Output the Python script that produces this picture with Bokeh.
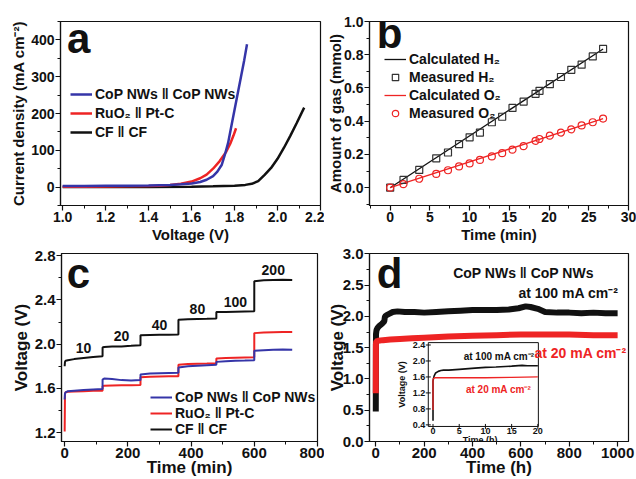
import numpy as np
from bokeh.plotting import figure
from bokeh.models import (Range1d, FixedTicker, Legend, LegendItem, Label,
                          PrintfTickFormatter)
from bokeh.layouts import column, row
from bokeh.embed import file_html
from bokeh.resources import INLINE
from bokeh.core.properties import value

FONT = "Liberation Sans"
BLUE = "#3535a8"
RED = "#ee2424"
BLACK = "#111111"

# ---------------- Panel a : polarization curves ----------------
a_cop_v = [1.00, 1.10, 1.20, 1.30, 1.40, 1.50, 1.55, 1.60, 1.64, 1.67, 1.70, 1.72, 1.74, 1.755, 1.77, 1.79, 1.81, 1.83, 1.845, 1.858]
a_cop_j = [3, 3, 3.5, 4, 4.5, 6, 7.5, 10, 14, 20, 30, 42, 60, 88, 120, 180, 240, 300, 345, 388]
a_ru_v = [1.00, 1.10, 1.20, 1.30, 1.40, 1.45, 1.50, 1.55, 1.60, 1.64, 1.67, 1.70, 1.73, 1.76, 1.78, 1.795, 1.807]
a_ru_j = [1, 1, 1.5, 2, 3, 4, 6, 9, 15, 24, 34, 50, 70, 95, 118, 140, 160]
a_cf_v = [1.00, 1.20, 1.40, 1.60, 1.70, 1.80, 1.85, 1.88, 1.91, 1.94, 1.97, 2.00, 2.03, 2.06, 2.09, 2.124]
a_cf_j = [0, 0, 0.5, 1, 2, 4, 6, 9, 16, 33, 52, 77, 107, 140, 175, 216]
a_xticks = [1.0, 1.2, 1.4, 1.6, 1.8, 2.0, 2.2]
a_xminor = [1.1, 1.3, 1.5, 1.7, 1.9, 2.1]
a_yticks = [0, 100, 200, 300, 400]
a_yminor = [-50, 50, 150, 250, 350, 450]
a_names = ["CoP NWs ǁ CoP NWs", "RuO₂ ǁ Pt-C", "CF ǁ CF"]

# ---------------- Panel b : gas amount ----------------
b_meas_t = [0, 1.68, 3.66, 5.8, 7.28, 8.67, 10.0, 11.3, 12.8, 14.1, 15.4, 16.8, 18.3, 18.8, 20.1, 21.5, 22.8, 24.1, 25.5, 26.8]
b_meas_h2 = [0, 0.047, 0.107, 0.177, 0.212, 0.262, 0.303, 0.332, 0.394, 0.427, 0.48, 0.518, 0.565, 0.583, 0.623, 0.666, 0.709, 0.74, 0.79, 0.835]
b_meas_o2 = [0, 0.021, 0.054, 0.083, 0.105, 0.128, 0.146, 0.167, 0.188, 0.208, 0.229, 0.25, 0.282, 0.293, 0.313, 0.332, 0.351, 0.375, 0.394, 0.416]
b_calc_t = [0, 26.8]
b_calc_h2 = [0, 0.835]
b_calc_o2 = [0, 0.416]
b_xticks = [0, 5, 10, 15, 20, 25, 30]
b_xminor = [-2.5, 2.5, 7.5, 12.5, 17.5, 22.5, 27.5]
b_yticks = [0.0, 0.2, 0.4, 0.6, 0.8, 1.0]
b_yminor = [-0.1, 0.1, 0.3, 0.5, 0.7, 0.9]
b_names = ["Calculated H₂", "Measured H₂", "Calculated O₂", "Measured O₂"]

# ---------------- Panel c : multi-step chronopotentiometry ----------------
c_time = [0, 1, 3, 10, 30, 60, 90, 119.9, 120, 125, 150, 180, 210, 239.9, 240, 270, 300, 330, 359.9,
          360, 390, 420, 450, 479.9, 480, 510, 540, 570, 599.9, 600, 630, 660, 690, 720]
c_cop = [1.50, 1.555, 1.565, 1.575, 1.58, 1.585, 1.59, 1.595, 1.68, 1.69, 1.685, 1.675, 1.672, 1.675,
         1.725, 1.735, 1.738, 1.74, 1.742, 1.79, 1.80, 1.805, 1.81, 1.815, 1.84, 1.845, 1.85, 1.852, 1.855,
         1.94, 1.945, 1.95, 1.952, 1.95]
c_ru = [1.21, 1.55, 1.565, 1.57, 1.572, 1.575, 1.578, 1.58, 1.62, 1.625, 1.627, 1.628, 1.628, 1.63,
        1.70, 1.705, 1.708, 1.71, 1.71, 1.815, 1.82, 1.823, 1.825, 1.827, 1.87, 1.875, 1.878, 1.88, 1.882,
        2.10, 2.105, 2.108, 2.11, 2.11]
c_cf = [1.80, 1.84, 1.85, 1.855, 1.865, 1.875, 1.885, 1.89, 1.97, 1.975, 1.978, 1.98, 1.985, 1.99,
        2.08, 2.083, 2.085, 2.086, 2.088, 2.22, 2.225, 2.228, 2.23, 2.232, 2.29, 2.292, 2.294, 2.296, 2.298,
        2.57, 2.578, 2.58, 2.582, 2.58]
c_step_start = [0, 120, 240, 360, 480, 600]
c_step_current = ["10", "20", "40", "80", "100", "200"]
c_xticks = [0, 200, 400, 600, 800]
c_xminor = [100, 300, 500, 700]
c_yticks = [1.2, 1.6, 2.0, 2.4, 2.8]
c_yminor = [1.4, 1.8, 2.2, 2.6]

# ---------------- Panel d : long-term stability ----------------
d_t_100 = [0, 0.5, 1, 3, 8, 15, 25, 35, 38, 45, 55, 70, 90, 120, 160, 200, 250, 300, 350, 400, 450,
           500, 550, 590, 620, 640, 670, 700, 750, 800, 850, 900, 950, 1000]
d_v_100 = [0.48, 1.55, 1.72, 1.78, 1.82, 1.85, 1.88, 1.92, 2.0, 2.02, 2.04, 2.07, 2.08, 2.07, 2.07, 2.06,
           2.07, 2.08, 2.09, 2.10, 2.10, 2.10, 2.11, 2.13, 2.16, 2.15, 2.12, 2.07, 2.06, 2.06, 2.05, 2.06, 2.05, 2.05]
d_t_20 = [0, 0.5, 2, 10, 30, 60, 100, 150, 200, 300, 400, 500, 600, 700, 800, 900, 1000]
d_v_20 = [0.77, 1.55, 1.60, 1.61, 1.62, 1.63, 1.64, 1.65, 1.66, 1.68, 1.69, 1.70, 1.71, 1.71, 1.71, 1.70, 1.70]
d_xticks = [0, 200, 400, 600, 800, 1000]
d_xminor = [100, 300, 500, 700, 900]
d_yticks = [0.0, 0.5, 1.0, 1.5, 2.0, 2.5, 3.0]
d_yminor = [0.25, 0.75, 1.25, 1.75, 2.25, 2.75]

# inset (first 20 h)
in_t_100 = [0, 0, 0.2, 0.5, 1, 1.5, 2, 3, 5, 8, 10, 12, 15, 17, 18, 20]
in_v_100 = [0.5, 1.5, 1.62, 1.70, 1.74, 1.76, 1.77, 1.77, 1.79, 1.82, 1.84, 1.85, 1.87, 1.89, 1.88, 1.88]
in_t_20 = [0, 0, 0.3, 2, 5, 10, 15, 20]
in_v_20 = [0.77, 1.55, 1.58, 1.58, 1.58, 1.58, 1.59, 1.60]
in_xticks = [0, 5, 10, 15, 20]
in_yticks = [0.4, 0.8, 1.2, 1.6, 2.0, 2.4]
in_xlim = [-0.9, 20.1]
in_ylim = [0.36, 2.46]


def style(p, xt, xm, yt, ym, tick_fs, lab_fs, xfmt=None, yfmt=None, xstand=1, ystand=1):
    p.xaxis.ticker = FixedTicker(ticks=xt, minor_ticks=xm)
    p.yaxis.ticker = FixedTicker(ticks=yt, minor_ticks=ym)
    if xfmt:
        p.xaxis.formatter = PrintfTickFormatter(format=xfmt)
    if yfmt:
        p.yaxis.formatter = PrintfTickFormatter(format=yfmt)
    for ax in p.xaxis + p.yaxis:
        ax.major_label_text_font = FONT
        ax.major_label_text_font_style = "bold"
        ax.major_label_text_font_size = tick_fs
        ax.major_label_text_color = BLACK
        ax.axis_label_text_font = FONT
        ax.axis_label_text_font_style = "bold"
        ax.axis_label_text_font_size = lab_fs
        ax.axis_label_text_color = BLACK
        ax.major_tick_in = 0
        ax.major_tick_out = 5
        ax.minor_tick_in = 0
        ax.minor_tick_out = 3
        ax.major_tick_line_color = BLACK
        ax.minor_tick_line_color = BLACK
        ax.axis_line_color = BLACK
        ax.axis_line_width = 1.2
        ax.major_tick_line_width = 1.2
        ax.major_label_standoff = 1
    for ax in p.xaxis:
        ax.axis_label_standoff = xstand
    for ax in p.yaxis:
        ax.axis_label_standoff = ystand
    p.xgrid.visible = False
    p.ygrid.visible = False
    p.outline_line_color = BLACK
    p.outline_line_width = 1.2
    p.outline_line_alpha = 1.0
    p.background_fill_color = "white"
    p.border_fill_color = "white"


def big_letter(p, txt, x, y):
    p.add_layout(Label(x=x, y=y, text=txt, text_font=FONT, text_font_style="bold",
                       text_font_size="42px", text_color=BLACK, text_baseline="alphabetic",
                       text_align="left"))


def make_legend(items, loc, fs, lh, spacing):
    return Legend(items=items, location=loc, background_fill_alpha=0, border_line_alpha=0,
                  label_text_font=FONT, label_text_font_style="bold", label_text_font_size=fs,
                  label_text_color=BLACK, glyph_width=22, glyph_height=lh, label_height=lh,
                  spacing=spacing, padding=0, margin=0, label_standoff=3)

# ================= figure a =================
pa = figure(width=324, height=246, x_range=Range1d(0.99, 2.2), y_range=Range1d(-50, 450),
            output_backend="svg", toolbar_location=None,
            min_border_left=60, min_border_right=4, min_border_top=17, min_border_bottom=41)
style(pa, a_xticks, a_xminor, a_yticks, a_yminor, "14px", "15px", xfmt="%.1f")
pa.xaxis.axis_label = "Voltage (V)"
pa.yaxis.axis_label = "Current density (mA cm⁻²)"
r_cf = pa.line(a_cf_v, a_cf_j, line_color=BLACK, line_width=2.5)
r_ru = pa.line(a_ru_v, a_ru_j, line_color=RED, line_width=2.5)
r_cop = pa.line(a_cop_v, a_cop_j, line_color=BLUE, line_width=2.5)
leg_a = make_legend([LegendItem(label=a_names[0], renderers=[r_cop]),
                     LegendItem(label=a_names[1], renderers=[r_ru]),
                     LegendItem(label=a_names[2], renderers=[r_cf])],
                    (10, 65), "14px", 16, 3)
pa.add_layout(leg_a)
big_letter(pa, "a", 1.02, 405)

# ================= figure b =================
pb = figure(width=312, height=246, x_range=Range1d(-2.6, 30), y_range=Range1d(-0.107, 1.0),
            output_backend="svg", toolbar_location=None,
            min_border_left=45, min_border_right=8, min_border_top=21, min_border_bottom=35)
style(pb, b_xticks, b_xminor, b_yticks, b_yminor, "14px", "15px", yfmt="%.1f", ystand=-3)
pb.xaxis.axis_label = "Time (min)"
pb.yaxis.axis_label = "Amount of gas (mmol)"
rb1 = pb.line(b_calc_t, b_calc_h2, line_color=BLACK, line_width=1.3)
rb3 = pb.line(b_calc_t, b_calc_o2, line_color=RED, line_width=1.3)
rb2 = pb.scatter(b_meas_t, b_meas_h2, marker="square", size=7, fill_color=None,
                 line_color="#333333", line_width=1.2)
rb4 = pb.scatter(b_meas_t, b_meas_o2, marker="circle", size=7, fill_color=None,
                 line_color=RED, line_width=1.2)
leg_b = make_legend([LegendItem(label=b_names[0], renderers=[rb1]),
                     LegendItem(label=b_names[1], renderers=[rb2]),
                     LegendItem(label=b_names[2], renderers=[rb3]),
                     LegendItem(label=b_names[3], renderers=[rb4])],
                    (15, 84), "14px", 16, 2)
pb.add_layout(leg_b)
big_letter(pb, "b", -1.7, 0.925)

# ================= figure c =================
pc = figure(width=324, height=233, x_range=Range1d(-10, 800), y_range=Range1d(1.12, 2.82),
            output_backend="svg", toolbar_location=None,
            min_border_left=61, min_border_right=7, min_border_top=6, min_border_bottom=38)
style(pc, c_xticks, c_xminor, c_yticks, c_yminor, "15px", "17px", yfmt="%.1f", xstand=-3)
pc.xaxis.axis_label = "Time (min)"
pc.yaxis.axis_label = "Voltage (V)"
rc_cf = pc.line(c_time, c_cf, line_color=BLACK, line_width=2)
rc_ru = pc.line(c_time, c_ru, line_color=RED, line_width=2)
rc_cop = pc.line(c_time, c_cop, line_color=BLUE, line_width=2)
step_mid = [s + 60 for s in c_step_start]
step_lvl = list(np.interp(step_mid, c_time, c_cf))
pc.text(x=step_mid, y=step_lvl, text=c_step_current, text_font=value(FONT),
        text_font_style="bold", text_font_size="14px", text_color=BLACK,
        text_align="center", text_baseline="bottom", y_offset=-5)
leg_c = make_legend([LegendItem(label=a_names[0], renderers=[rc_cop]),
                     LegendItem(label=a_names[1], renderers=[rc_ru]),
                     LegendItem(label=a_names[2], renderers=[rc_cf])],
                    (89, 4), "14px", 14, -2)
pc.add_layout(leg_c)
big_letter(pc, "c", 7, 2.64)

# ================= figure d =================
pd_ = figure(width=312, height=233, x_range=Range1d(-26, 1045), y_range=Range1d(0, 3.005),
             output_backend="svg", toolbar_location=None,
             min_border_left=44, min_border_right=8, min_border_top=7, min_border_bottom=36)
style(pd_, d_xticks, d_xminor, d_yticks, d_yminor, "15px", "17px", yfmt="%.1f", xstand=-3, ystand=-7)
pd_.xaxis.axis_label = "Time (h)"
pd_.yaxis.axis_label = "Voltage (V)"
pd_.line(d_t_100, d_v_100, line_color=BLACK, line_width=6)
pd_.line(d_t_20, d_v_20, line_color=RED, line_width=6)
big_letter(pd_, "d", 4, 2.68)
pd_.add_layout(Label(x=611, y=2.70, text="CoP NWs ǁ CoP NWs", text_font=FONT, text_font_style="bold",
                     text_font_size="14px", text_color=BLACK, text_align="center", text_baseline="middle"))
pd_.add_layout(Label(x=1003, y=2.37, text="at 100 mA cm⁻²", text_font=FONT, text_font_style="bold",
                     text_font_size="14px", text_color=BLACK, text_align="right", text_baseline="middle"))
pd_.add_layout(Label(x=1037, y=1.42, text="at 20 mA cm⁻²", text_font=FONT, text_font_style="bold",
                     text_font_size="14px", text_color=RED, text_align="right", text_baseline="middle"))

# inset placed as fractions of panel d's frame
fx0, fx1 = 0.227, 0.652
fy0, fy1 = 0.080, 0.526
spx = (in_xlim[1] - in_xlim[0]) / (fx1 - fx0)
spy = (in_ylim[1] - in_ylim[0]) / (fy1 - fy0)
ixs = in_xlim[0] - fx0 * spx
iys = in_ylim[0] - fy0 * spy
pd_.extra_x_ranges = {"ix": Range1d(ixs, ixs + spx)}
pd_.extra_y_ranges = {"iy": Range1d(iys, iys + spy)}
kw = dict(x_range_name="ix", y_range_name="iy")
pd_.quad(left=[in_xlim[0]], right=[in_xlim[1]], bottom=[in_ylim[0]], top=[in_ylim[1]],
         fill_color="white", line_color=BLACK, line_width=1, **kw)
pd_.line(in_t_100, in_v_100, line_color=BLACK, line_width=1.6, **kw)
pd_.line(in_t_20, in_v_20, line_color=RED, line_width=1.3, **kw)
pd_.scatter(x=in_xticks, y=[in_ylim[0]] * len(in_xticks), marker="dash", angle=np.pi / 2, size=5,
            line_color=BLACK, **kw)
pd_.scatter(x=[in_xlim[0]] * len(in_yticks), y=in_yticks, marker="dash", size=5, line_color=BLACK, **kw)
pd_.text(x=in_xticks, y=[in_ylim[0]] * len(in_xticks), text=[str(v) for v in in_xticks],
         text_font=value(FONT), text_font_style="bold", text_font_size="9px", text_color=BLACK,
         text_align="center", text_baseline="top", y_offset=2, **kw)
pd_.text(x=[in_xlim[0]] * len(in_yticks), y=in_yticks, text=[f"{v:.1f}" for v in in_yticks],
         text_font=value(FONT), text_font_style="bold", text_font_size="9px", text_color=BLACK,
         text_align="right", text_baseline="middle", x_offset=-3, **kw)
pd_.text(x=[9], y=[in_ylim[0]], text=["Time (h)"], text_font=value(FONT), text_font_style="bold",
         text_font_size="9px", text_color=BLACK, text_align="center", text_baseline="top",
         y_offset=9, **kw)
pd_.text(x=[in_xlim[0]], y=[(in_ylim[0] + in_ylim[1]) / 2], text=["Voltage (V)"], text_font=value(FONT),
         text_font_style="bold", text_font_size="9px", text_color=BLACK, text_align="center",
         text_baseline="bottom", angle=np.pi / 2, x_offset=-21, **kw)
pd_.text(x=[12.6], y=[2.11], text=["at 100 mA cm⁻²"], text_font=value(FONT), text_font_style="bold",
         text_font_size="10px", text_color=BLACK, text_align="center", text_baseline="middle", **kw)
pd_.text(x=[12.5], y=[1.29], text=["at 20 mA cm⁻²"], text_font=value(FONT), text_font_style="bold",
         text_font_size="10px", text_color=RED, text_align="center", text_baseline="middle", **kw)

layout = column(row(pa, pb), row(pc, pd_))
open("out.html", "w").write(file_html(layout, INLINE))
